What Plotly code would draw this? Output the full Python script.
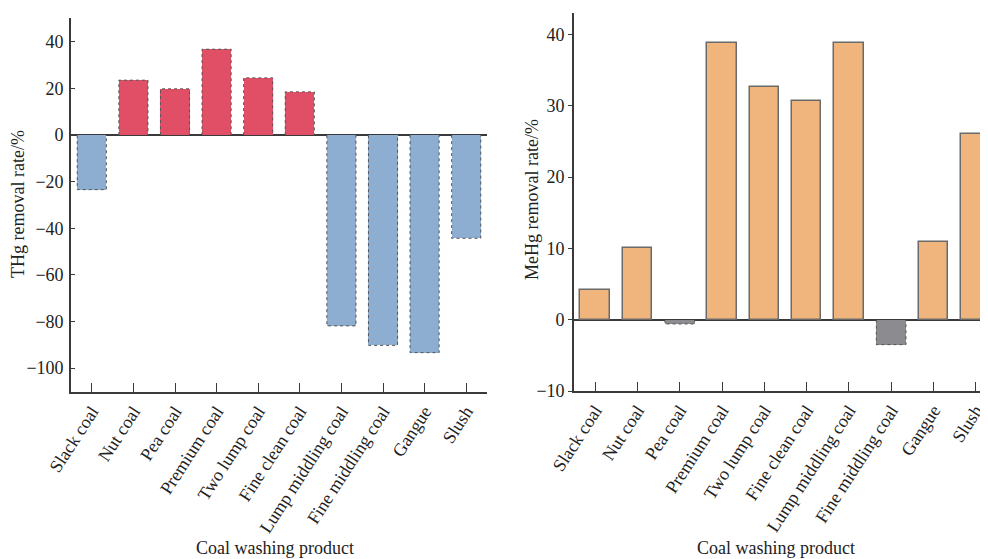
import plotly.graph_objects as go

categories = ["Slack coal", "Nut coal", "Pea coal", "Premium coal", "Two lump coal",
              "Fine clean coal", "Lump middling coal", "Fine middling coal", "Gangue", "Slush"]
thg_removal = [-23.4, 23.6, 19.9, 36.9, 24.6, 18.6, -81.9, -90.3, -93.4, -44.3]
mehg_removal = [4.1, 10.0, -0.6, 38.8, 32.6, 30.6, 38.8, -3.5, 10.85, 26.0]
left_ticks = [40, 20, 0, -20, -40, -60, -80, -100]
right_ticks = [40, 30, 20, 10, 0, -10]

RED = "#E04F66"
BLUE = "#8DADD1"
ORANGE = "#F0B47D"
GRAY = "#8C8C90"
BAR_W = 0.7
FONT = "Liberation Serif"
AX = "#3a3a3a"
FS = 18

idx = list(range(len(categories)))

def outline(xs, vals, w):
    px, py = [], []
    for x, v in zip(xs, vals):
        px += [x - w / 2, x - w / 2, x + w / 2, x + w / 2, None]
        py += [0, v, v, 0, None]
    return px, py

fig = go.Figure()

# Left chart: THg
left_colors = [RED if v >= 0 else BLUE for v in thg_removal]
fig.add_trace(go.Bar(x=idx, y=thg_removal, width=BAR_W, marker=dict(color=left_colors, line=dict(width=0)),
                     xaxis="x", yaxis="y", showlegend=False))
ox, oy = outline(idx, thg_removal, BAR_W)
fig.add_trace(go.Scatter(x=ox, y=oy, mode="lines", line=dict(color="#555", width=1, dash="dot"),
                         xaxis="x", yaxis="y", showlegend=False, hoverinfo="skip"))

# Right chart: MeHg
right_colors = [ORANGE if v >= 0 else GRAY for v in mehg_removal]
right_lw = [1.5 if v >= 0 else 0 for v in mehg_removal]
fig.add_trace(go.Bar(x=idx, y=mehg_removal, width=BAR_W,
                     marker=dict(color=right_colors, line=dict(width=right_lw, color="#6a6a6a")),
                     xaxis="x2", yaxis="y2", showlegend=False))
neg_x = [i for i, v in zip(idx, mehg_removal) if v < 0]
neg_v = [v for v in mehg_removal if v < 0]
ox2, oy2 = outline(neg_x, neg_v, BAR_W)
fig.add_trace(go.Scatter(x=ox2, y=oy2, mode="lines", line=dict(color="#555", width=1, dash="dot"),
                         xaxis="x2", yaxis="y2", showlegend=False, hoverinfo="skip"))

# page body has an 8px margin: the figure starts at (8, 8) in the window
OFF = 8
W, H = 988 - OFF, 559 - OFF

def px_x(a):
    return (a - OFF) / W

def px_y(b):
    return (H - (b - OFF)) / H

def xd(a, b):
    return [max(0, px_x(a)), min(1, px_x(b))]

def yd(top, bottom):
    return [px_y(bottom), px_y(top)]

common_x = dict(tickmode="array", tickvals=idx, ticktext=categories, tickangle=-57,
                ticks="inside", ticklen=9, tickwidth=1.3, tickcolor=AX, automargin=False,
                showline=True, linecolor=AX, linewidth=1.6, showgrid=False, zeroline=False,
                tickfont=dict(family=FONT, size=FS, color="#222"))

ann_font = dict(family=FONT, size=FS, color="#222")

fig.update_layout(
    template="none",
    width=W, height=H, margin=dict(l=0, r=0, t=0, b=0, pad=0),
    paper_bgcolor="white", plot_bgcolor="white", bargap=0,
    xaxis=dict(domain=xd(71, 487), range=[-0.5, 9.5], anchor="y", **common_x),
    yaxis=dict(domain=yd(18, 392), range=[-110.3, 50.3], anchor="x", automargin=False,
               tickmode="array", tickvals=left_ticks, ticks="inside", ticklen=4, tickwidth=1.3,
               tickcolor=AX, showline=True, linecolor=AX, linewidth=1.6, showgrid=False,
               zeroline=True, zerolinecolor=AX, zerolinewidth=1.6,
               tickfont=dict(family=FONT, size=FS, color="#222"), ticklabelstandoff=2),
    xaxis2=dict(domain=xd(574, 988), range=[-0.5, 9.29], anchor="y2", **common_x),
    yaxis2=dict(domain=yd(13, 391), range=[-10, 43.0], anchor="x2", automargin=False,
                tickmode="array", tickvals=right_ticks, ticks="outside", ticklen=4, tickwidth=1.3,
                tickcolor=AX, showline=True, linecolor=AX, linewidth=1.6, showgrid=False,
                zeroline=True, zerolinecolor=AX, zerolinewidth=1.6,
                tickfont=dict(family=FONT, size=FS, color="#222")),
    annotations=[
        dict(text="Coal washing product", x=px_x(275), y=px_y(548), xref="paper", yref="paper",
             xanchor="center", yanchor="middle", showarrow=False, font=ann_font),
        dict(text="Coal washing product", x=px_x(776), y=px_y(548), xref="paper", yref="paper",
             xanchor="center", yanchor="middle", showarrow=False, font=ann_font),
        dict(text="THg removal rate/%", x=px_x(18), y=px_y(204), xref="paper", yref="paper",
             xanchor="center", yanchor="middle", showarrow=False, textangle=-90, font=ann_font),
        dict(text="MeHg removal rate/%", x=px_x(532), y=px_y(200), xref="paper", yref="paper",
             xanchor="center", yanchor="middle", showarrow=False, textangle=-90, font=ann_font),
    ],
)

fig.write_html("out.html")
